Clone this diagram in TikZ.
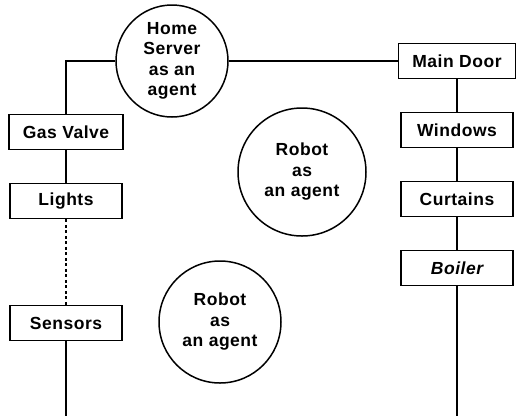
\documentclass[tikz,border=0pt]{standalone}
\usepackage{fontspec}
\setmainfont{Liberation Sans}[LetterSpace=3]
\begin{document}
\begin{tikzpicture}[x=1pt, y=1pt, node distance=69pt, align=center, font=\fontsize{17.5}{20.5}\selectfont\bfseries]
	% Node styles
	\tikzstyle{device} = [rectangle, draw, line width=1.6pt, minimum width=112pt, minimum height=35pt, inner xsep=14pt]
	\tikzstyle{agent} = [circle, draw, line width=1.5pt, inner sep=0pt]
	\tikzstyle{link} = [line width=1.6pt]
	
	\useasboundingbox (0,0) rectangle (522,-416);
	
	% Nodes
	\node[agent, minimum size=112pt] (homeServer) at (172,-61) {Home\\Server\\as an\\agent};
	\node[agent, minimum size=128pt] (robotUpper) at (302,-172) {Robot\\as\\an agent};
	\node[agent, minimum size=122pt] (robotLower) at (220,-322) {Robot\\as\\an agent};
	
	\node[device] (gasValve) at (66,-132) {Gas Valve};
	\node[device, below of=gasValve] (lights) {Lights};
	\node[device, below of=lights, node distance=122pt] (sensors) {Sensors};
	
	\node[device] (mainDoor) at (457,-61) {Main Door};
	\node[device, below of=mainDoor] (windows) {Windows};
	\node[device, below of=windows] (curtains) {Curtains};
	\node[device, below of=curtains, font=\fontsize{17.5}{20.5}\selectfont\bfseries\itshape] (boiler) {Boiler};
	
	\coordinate (sensorsEnd) at (sensors |- 0,-416);
	\coordinate (boilerEnd) at (boiler |- 0,-416);
	
	% Lines
	\draw[link] (homeServer.west) -| (gasValve.north);
	\draw[link] (homeServer.east) -- (mainDoor.west);
	\draw[link] (gasValve) -- (lights);
	\draw[link, dash pattern=on 3pt off 2.5pt] (lights) -- (sensors);
	\draw[link] (sensors) -- (sensorsEnd);
	\draw[link] (mainDoor) -- (windows);
	\draw[link] (windows) -- (curtains);
	\draw[link] (curtains) -- (boiler);
	\draw[link] (boiler) -- (boilerEnd);
\end{tikzpicture}
\end{document}
